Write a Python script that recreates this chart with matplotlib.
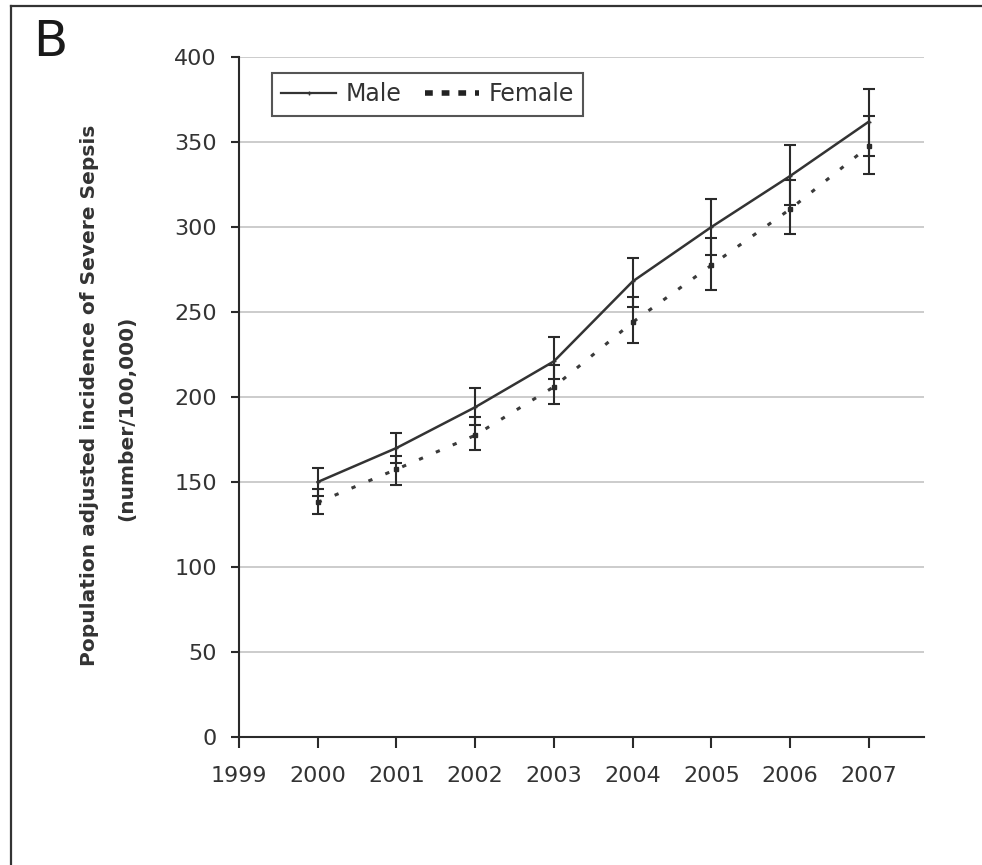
import matplotlib
matplotlib.use("Agg")
import matplotlib.pyplot as plt
from matplotlib.lines import Line2D

# Population adjusted incidence of severe sepsis by sex, 2000-2007
years = [2000, 2001, 2002, 2003, 2004, 2005, 2006, 2007]
male = [150, 170, 194, 221, 268, 300, 330, 362]
male_lo = [142, 161, 183.5, 210.5, 253, 283.5, 313, 342]
male_hi = [158, 179, 205, 235, 282, 316.5, 348, 381]
female = [138, 157.5, 177.5, 206, 244, 277.5, 310.5, 347.5]
female_lo = [131, 148, 169, 196, 232, 263, 296, 331]
female_hi = [146, 165, 188, 219, 259, 293.5, 327.5, 365]

year_ticks = [1999, 2000, 2001, 2002, 2003, 2004, 2005, 2006, 2007]
y_ticks = [0, 50, 100, 150, 200, 250, 300, 350, 400]

W, H = 982, 865
plt.rcParams["font.family"] = "DejaVu Sans"

fig = plt.figure(figsize=(W / 100, H / 100), dpi=100)
ax = fig.add_axes([239 / W, 1 - 737 / H, (924 - 239) / W, (737 - 57) / H])

ink = "#2a2a2a"

m_err = [[m - lo for m, lo in zip(male, male_lo)], [hi - m for m, hi in zip(male, male_hi)]]
f_err = [[f - lo for f, lo in zip(female, female_lo)], [hi - f for f, hi in zip(female, female_hi)]]

ax.errorbar(years, male, yerr=m_err, color="#333333", lw=1.8, marker="+", ms=3,
            ecolor=ink, elinewidth=1.5, capsize=4.3, capthick=1.5, label="Male", zorder=3)
ax.errorbar(years, female, yerr=f_err, color="#3a3a3a", lw=2.2, ls=(0, (1.4, 4.6)),
            marker="s", ms=3.5, mfc=ink, mec=ink,
            ecolor=ink, elinewidth=1.5, capsize=4.3, capthick=1.5, label="Female", zorder=3)

ax.set_xlim(1999, 2007.7)
ax.set_ylim(0, 400)
ax.set_xticks(year_ticks)
ax.set_yticks(y_ticks)
ax.yaxis.grid(True, color="#c8c8c8", lw=1.3)
ax.set_axisbelow(True)

for side in ["top", "right"]:
    ax.spines[side].set_visible(False)
for side in ["left", "bottom"]:
    ax.spines[side].set_color(ink)
    ax.spines[side].set_linewidth(1.5)

ax.tick_params(axis="y", direction="out", length=6, width=1.5, color=ink, pad=10,
               labelsize=16, labelcolor="#333333")
ax.tick_params(axis="x", direction="out", length=8, width=1.5, color=ink, pad=13,
               labelsize=16, labelcolor="#333333")

# legend with plain lines (no error bars in the key)
handles = [
    Line2D([], [], color="#333333", lw=1.6, marker="+", ms=3),
    Line2D([], [], color="#222222", lw=4, ls=(0, (1.4, 1.6))),
]
leg = fig.legend(handles, ["Male", "Female"], loc="upper left",
                 bbox_to_anchor=(272 / W, 1 - 73 / H), bbox_transform=fig.transFigure,
                 ncol=2, fontsize=17, frameon=True, fancybox=False, borderaxespad=0,
                 handlelength=2.3, handletextpad=0.4, columnspacing=1.0, borderpad=0.4)
leg.get_frame().set_edgecolor(ink)
leg.get_frame().set_linewidth(1.5)
for t in leg.get_texts():
    t.set_color("#333333")

# axis title in two separately centred lines
fig.text(90 / W, 1 - 395 / H, "Population adjusted incidence of Severe Sepsis",
         rotation=90, ha="center", va="center", fontsize=14.5, fontweight="bold", color="#333333")
fig.text(127 / W, 1 - 418 / H, "(number/100,000)",
         rotation=90, ha="center", va="center", fontsize=14.5, fontweight="bold", color="#333333")

# panel letter and frame
fig.text(33 / W, 1 - 18 / H, "B", ha="left", va="top", fontsize=36, color="#1a1a1a")
fig.add_artist(Line2D([11 / W, 11 / W], [0, 1 - 6 / H], transform=fig.transFigure,
                      color="#333333", lw=1.6))
fig.add_artist(Line2D([11 / W, 1], [1 - 6 / H, 1 - 6 / H], transform=fig.transFigure,
                      color="#333333", lw=1.6))

fig.savefig("out.png", dpi=100)
